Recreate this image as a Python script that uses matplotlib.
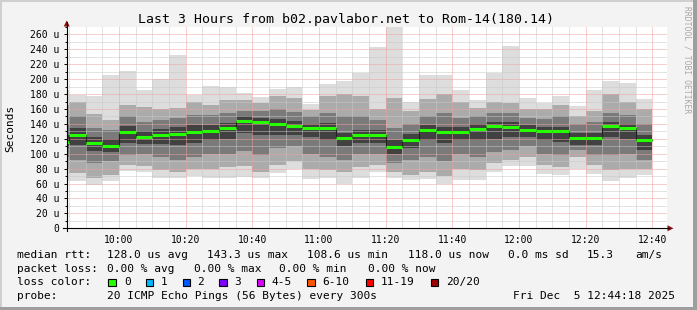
import matplotlib
matplotlib.use("Agg")
import matplotlib.pyplot as plt
from matplotlib.lines import Line2D
from matplotlib.patches import Rectangle, Polygon
from matplotlib.ticker import FuncFormatter, MultipleLocator

W, H, DPI = 697, 310, 100
FONT = "DejaVu Sans Mono"

# ---------------- data ----------------
# 5-minute smoke columns (minutes after midnight); first one is a partial column
slot_start = [584.3] + [585 + 5 * k for k in range(35)]
slot_end = [585] + [590 + 5 * k for k in range(35)]

median_rtt = [116.0, 124.8, 114.5, 110.9, 128.9, 122.0, 125.6, 127.0, 129.3, 131.0,
              134.2, 143.3, 142.7, 139.6, 137.3, 135.0, 134.6, 120.8, 125.6, 124.8,
              108.6, 118.5, 131.5, 129.3, 128.9, 133.3, 136.9, 136.4, 132.0, 130.2,
              130.2, 120.8, 121.6, 137.3, 135.0, 118.0]
max_rtt = [185, 179, 178, 205, 211, 186, 200, 232, 179, 191, 190, 181, 176, 187, 190, 167,
           194, 197, 208, 243, 275, 170, 205, 206, 185, 172, 208, 245, 175, 168, 178, 164,
           185, 198, 195, 174]
min_rtt = [63, 64, 58, 64, 77, 76, 67, 68, 70, 67, 67, 69, 67, 74, 80, 66, 68, 59, 67, 75,
           67, 65, 66, 59, 65, 65, 76, 83, 83, 73, 71, 79, 73, 64, 67, 71]
lo2 = [80, 74, 68, 72, 85, 84, 78, 76, 80, 80, 82, 84, 76, 85, 90, 80, 78, 75, 82, 85,
       75, 72, 75, 70, 80, 78, 88, 92, 95, 85, 82, 95, 85, 78, 80, 80]
hi2 = [165, 170, 153, 145, 166, 163, 160, 161, 170, 166, 172, 172, 168, 177, 175, 159,
       178, 180, 177, 160, 175, 157, 173, 180, 170, 162, 170, 168, 160, 160, 165, 150,
       158, 180, 170, 160]
lo3 = [95, 92, 88, 90, 98, 100, 95, 92, 96, 100, 100, 104, 98, 108, 110, 100, 96, 92,
       100, 100, 88, 92, 95, 90, 100, 95, 102, 105, 110, 100, 98, 105, 98, 98, 100, 92]
hi3 = [140, 150, 135, 132, 150, 142, 145, 148, 152, 152, 155, 158, 158, 160, 156, 150,
       155, 150, 150, 145, 135, 140, 150, 155, 148, 150, 155, 155, 148, 147, 150, 140,
       142, 155, 152, 140]
lo4 = [108, 112, 104, 102, 115, 113, 113, 112, 115, 118, 120, 128, 125, 125, 125, 122,
       118, 110, 115, 115, 100, 108, 118, 115, 118, 118, 120, 122, 122, 118, 116, 112,
       112, 122, 120, 105]
hi4 = [125, 135, 122, 120, 137, 130, 133, 136, 138, 138, 141, 150, 148, 146, 144, 140,
       141, 128, 132, 132, 118, 126, 138, 136, 136, 140, 143, 142, 138, 136, 136, 128,
       128, 142, 140, 125]

time_ticks = [600, 620, 640, 660, 680, 700, 720, 740, 760]
title = "Last 3 Hours from b02.pavlabor.net to Rom-14(180.14)"
stat_rtt = ["128.0 us avg", "143.3 us max", "108.6 us min", "118.0 us now", "0.0 ms sd", "15.3", "am/s"]
stat_loss = ["0.00 % avg", "0.00 % max", "0.00 % min", "0.00 % now"]
loss_labels = ["0", "1", "2", "3", "4-5", "6-10", "11-19", "20/20"]
loss_colors = ["#26ff00", "#00b8ff", "#0059ff", "#7e00ff", "#dd00ff", "#ff5500", "#ff0000", "#a10000"]
probe_text = "20 ICMP Echo Pings (56 Bytes) every 300s"
stamp = "Fri Dec  5 12:44:18 2025"

# ---------------- figure ----------------
fig = plt.figure(figsize=(W / DPI, H / DPI), dpi=DPI)
fig.patch.set_facecolor("#f3f3f3")

def fx(x):
    return x / W

def fy(y):
    return 1 - y / H

# border shading
fig.add_artist(Rectangle((fx(0), fy(2)), 1, 2 / H, transform=fig.transFigure,
                         color="#cfcfcf", lw=0))
fig.add_artist(Rectangle((fx(0), 0), 2 / W, 1, transform=fig.transFigure,
                         color="#cfcfcf", lw=0))
fig.add_artist(Rectangle((fx(0), 0), 1, 3 / H, transform=fig.transFigure,
                         color="#9e9e9e", lw=0))
fig.add_artist(Rectangle((fx(W - 4), 0), 4 / W, 1, transform=fig.transFigure,
                         color="#9e9e9e", lw=0))

left, right, top, bottom = 66.7, 666.7, 27.0, 228.3
ax = fig.add_axes([fx(left), fy(bottom), (right - left) / W, (bottom - top) / H])
ax.set_facecolor("white")
ax.set_xlim(584.3, 764.3)
ax.set_ylim(0, 270)
for s in ax.spines.values():
    s.set_visible(False)

widths = [e - s for s, e in zip(slot_start, slot_end)]
layers = [(min_rtt, max_rtt, "#dddddd"),
          (lo2, hi2, "#ababab"),
          (lo3, hi3, "#7a7a7a"),
          (lo4, hi4, "#414141")]
for lo, hi, col in layers:
    ax.bar(slot_start, [h - l for l, h in zip(lo, hi)], bottom=lo, width=widths,
           align="edge", color=col, linewidth=0, zorder=1)

# grid (drawn over the smoke like rrdtool)
dot = (0, (1, 1))
for v in range(10, 270, 10):
    major = v % 20 == 0
    ax.axhline(v, color="#f0a0a0" if major else "#c8c8c8", lw=0.72, ls=dot, zorder=3)
for t in range(585, 765, 5):
    major = t % 20 == 0
    ax.axvline(t, color="#f0a0a0" if major else "#c8c8c8", lw=0.72, ls=dot, zorder=3)

# median line
step_x = list(slot_start) + [slot_end[-1]]
step_y = list(median_rtt) + [median_rtt[-1]]
ax.step(step_x, step_y, where="post", color="#202020", lw=0.8, zorder=4)
ax.hlines(median_rtt, slot_start, slot_end, color="#26ff00", lw=2.2, zorder=5)

# ticks
ax.yaxis.set_major_locator(MultipleLocator(20))
ax.yaxis.set_minor_locator(MultipleLocator(10))
ax.yaxis.set_major_formatter(FuncFormatter(lambda v, p: "0" if v == 0 else f"{int(v)} u"))
ax.set_xticks(time_ticks)
ax.set_xticklabels([f"{t // 60}:{t % 60:02d}" for t in time_ticks])
ax.tick_params(axis="y", which="major", length=2, width=0.7, pad=3.5, labelsize=7,
               colors="black")
ax.tick_params(axis="y", which="minor", length=1.5, width=0.7)
ax.tick_params(axis="x", which="major", length=0, pad=5, labelsize=7)
for lab in ax.get_xticklabels() + ax.get_yticklabels():
    lab.set_fontfamily(FONT)
fig.text(fx(10.5), fy(128), "Seconds", fontfamily=FONT, fontsize=8, rotation=90,
         ha="center", va="center")

# axis lines and arrows
fig.add_artist(Line2D([fx(left), fx(left)], [fy(bottom + 3), fy(22)], transform=fig.transFigure,
                      color="black", lw=0.8))
fig.add_artist(Line2D([fx(63), fx(669)], [fy(bottom), fy(bottom)], transform=fig.transFigure,
                      color="black", lw=0.8))
fig.add_artist(Polygon([(fx(63.7), fy(26.5)), (fx(69.7), fy(26.5)), (fx(66.7), fy(20.5))],
                       closed=True, transform=fig.transFigure, color="#8a1010", lw=0))
fig.add_artist(Polygon([(fx(667.5), fy(225.3)), (fx(667.5), fy(231.3)), (fx(673.5), fy(228.3))],
                       closed=True, transform=fig.transFigure, color="#8a1010", lw=0))

# title and side text
fig.text(fx(346.5), fy(19), title, fontfamily=FONT, fontsize=9.5, ha="center", va="center")
fig.text(fx(687), fy(6), "RRDTOOL / TOBI OETIKER", fontfamily=FONT, fontsize=5.8,
         color="#a8a8a8", rotation=270, ha="center", va="top")

# legend rows
def txt(x, y, s):
    fig.text(fx(x), fy(y), s, fontfamily=FONT, fontsize=8, ha="left", va="center")

r1, r2, r3, r4 = 254.7, 268.5, 282.3, 296.0
txt(16.7, r1, "median rtt:")
for x, s in zip([107.3, 207.3, 307.3, 407.7, 507.7, 586.7, 635.7], stat_rtt):
    txt(x, r1, s)
txt(16.7, r2, "packet loss:")
for x, s in zip([107.3, 194.0, 279.3, 368.3], stat_loss):
    txt(x, r2, s)
txt(16.7, r3, "loss color:")
box_x = [108.3, 145.7, 182.7, 219.3, 256.7, 307.3, 366.0, 430.7]
lab_x = [124.0, 160.7, 197.3, 234.3, 271.7, 322.3, 380.7, 446.0]
for bx, lx, lab, col in zip(box_x, lab_x, loss_labels, loss_colors):
    fig.add_artist(Rectangle((fx(bx), fy(r3 + 3.7)), 7.3 / W, 7.3 / H,
                             transform=fig.transFigure, facecolor=col,
                             edgecolor="black", lw=0.8))
    txt(lx, r3, lab)
txt(16.7, r4, "probe:")
txt(107.3, r4, probe_text)
txt(513.3, r4, stamp)

fig.savefig("out.png", dpi=DPI, facecolor=fig.get_facecolor())
